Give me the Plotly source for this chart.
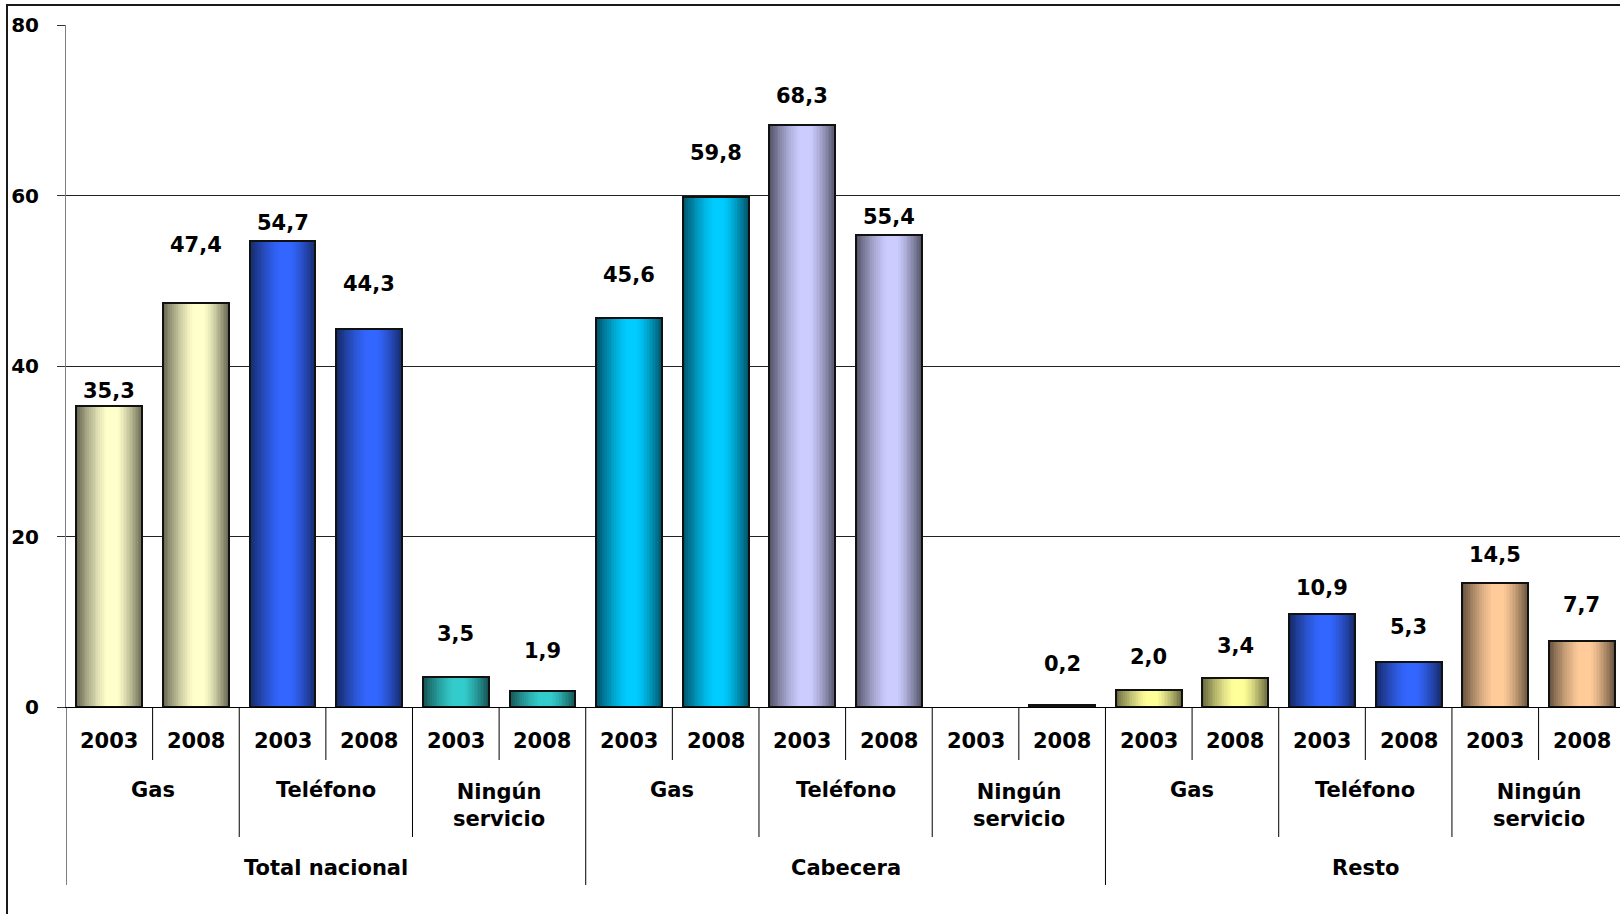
import plotly.graph_objects as go

# ---------------- data ----------------
regions = ["Total nacional", "Cabecera", "Resto"]
services = ["Gas", "Teléfono", "Ningún servicio"]
years = ["2003", "2008"]

total_nacional = [35.3, 47.4, 54.7, 44.3, 3.5, 1.9]
cabecera = [45.6, 59.8, 68.3, 55.4, None, 0.2]
resto = [2.0, 3.4, 10.9, 5.3, 14.5, 7.7]

y_ticks = [0, 20, 40, 60, 80]

# ---------------- styles ----------------
light_colors = [
    "#FFFFCC", "#FFFFCC", "#3366FF", "#3366FF", "#33CCCC", "#33CCCC",
    "#00CCFF", "#00CCFF", "#CCCCFF", "#CCCCFF", "#993366", "#993366",
    "#FFFF99", "#FFFF99", "#3366FF", "#3366FF", "#FFCC99", "#FFCC99",
]
label_shift = [15, 58, 18, 45, 43, 40, 43, 44, 29, 18, 0, 41, 33, 32, 26, 35, 28, 36]

FONT = "DejaVu Sans"

values = total_nacional + cabecera + resto
n = len(values)
xs = list(range(n))


def hex2rgb(h):
    h = h.lstrip("#")
    return [int(h[i:i + 2], 16) for i in (0, 2, 4)]


def mix(c_dark, c_light, t):
    return "rgb(%d,%d,%d)" % tuple(round(a + (b - a) * t) for a, b in zip(c_dark, c_light))


lights = [hex2rgb(c) for c in light_colors]
darks = [[v * 0.42 for v in c] for c in lights]


def brightness(d):
    if d <= 0.16:
        return 1.0
    return max(0.0, 1 - ((d - 0.16) / 0.84) ** 1.35)


fig = go.Figure()

W = 0.76
N = 20
shift = 0.05
for k in range(N):
    d = 1 - k / N
    w = W * d
    f = brightness(d)
    cols = [mix(dk, lt, f) for dk, lt in zip(darks, lights)]
    fig.add_bar(
        x=xs, y=values, width=w, offset=-w / 2 + shift * (1 - d) * W,
        marker=dict(color=cols, line=dict(width=0)),
        hoverinfo="skip", showlegend=False,
    )

# outline on top
fig.add_bar(
    x=xs, y=values, width=W, offset=-W / 2,
    marker=dict(color="rgba(0,0,0,0)", line=dict(color="#111111", width=2)),
    showlegend=False,
)

# ---------------- geometry helpers (pixels -> paper) ----------------
L, T, PW, PH = 66, 25, 1554, 682


def py(p):
    return (T + PH - p) / PH


def px(p):
    return (p - L) / PW


annotations = []
# data labels
for i, v in enumerate(values):
    if v is None:
        continue
    annotations.append(dict(
        x=i, y=v, xref="x", yref="y", text=f"{v:.1f}".replace(".", ","),
        showarrow=False, yanchor="middle", yshift=label_shift[i],
        font=dict(family=FONT, size=21, color="black", weight="bold"),
    ))

# category axis labels (3 levels)
idx = 0
for r, reg in enumerate(regions):
    for s, serv in enumerate(services):
        for y_, yr in enumerate(years):
            annotations.append(dict(
                x=idx, y=py(741), xref="x", yref="paper", text=yr, showarrow=False,
                yanchor="middle", font=dict(family=FONT, size=21, color="black", weight="bold"),
            ))
            idx += 1
        c = r * 6 + s * 2 + 0.5
        two = " " in serv
        annotations.append(dict(
            x=c, y=py(805 if two else 790), xref="x", yref="paper",
            text=serv.replace(" ", "<br>"), showarrow=False, yanchor="middle",
            font=dict(family=FONT, size=21, color="black", weight="bold"),
        ))
    annotations.append(dict(
        x=r * 6 + 2.5, y=py(868), xref="x", yref="paper", text=reg, showarrow=False,
        yanchor="middle", font=dict(family=FONT, size=21, color="black", weight="bold"),
    ))

shapes = []
for b in range(n + 1):
    xb = b - 0.5
    if b % 6 == 0:
        yb = py(885)
    elif b % 2 == 0:
        yb = py(837)
    else:
        yb = py(760)
    shapes.append(dict(type="line", xref="x", yref="paper", x0=xb, x1=xb, y0=0, y1=yb,
                       line=dict(color="#000000", width=1)))

# outer frame
shapes.append(dict(type="rect", xref="paper", yref="paper",
                   x0=px(7), x1=px(1640), y0=py(930), y1=py(5),
                   line=dict(color="#1a1a1a", width=2), fillcolor="rgba(0,0,0,0)"))

fig.update_layout(
    width=1620, height=914,
    margin=dict(l=L, r=1620 - L - PW, t=T, b=914 - T - PH),
    paper_bgcolor="white", plot_bgcolor="white",
    barmode="overlay", bargap=0, showlegend=False,
    font=dict(family=FONT, size=20, color="black", weight="bold"),
    annotations=annotations, shapes=shapes,
    xaxis=dict(range=[-0.5, 17.44], showticklabels=False, ticks="", showgrid=False,
               zeroline=False, showline=True, linecolor="#000000", linewidth=1),
    yaxis=dict(range=[0, 80], tickvals=y_ticks, showgrid=True, gridcolor="#222222",
               gridwidth=1, zeroline=False, showline=True, linecolor="#808080",
               linewidth=1, ticks="outside", ticklen=8, tickcolor="#333333",
               ticklabelstandoff=14,
               tickfont=dict(family=FONT, size=20, color="black", weight="bold")),
)

fig.write_html(
    "out.html",
    config={"displayModeBar": False},
    post_script="document.body.style.margin='0';document.body.style.overflow='hidden';",
)
